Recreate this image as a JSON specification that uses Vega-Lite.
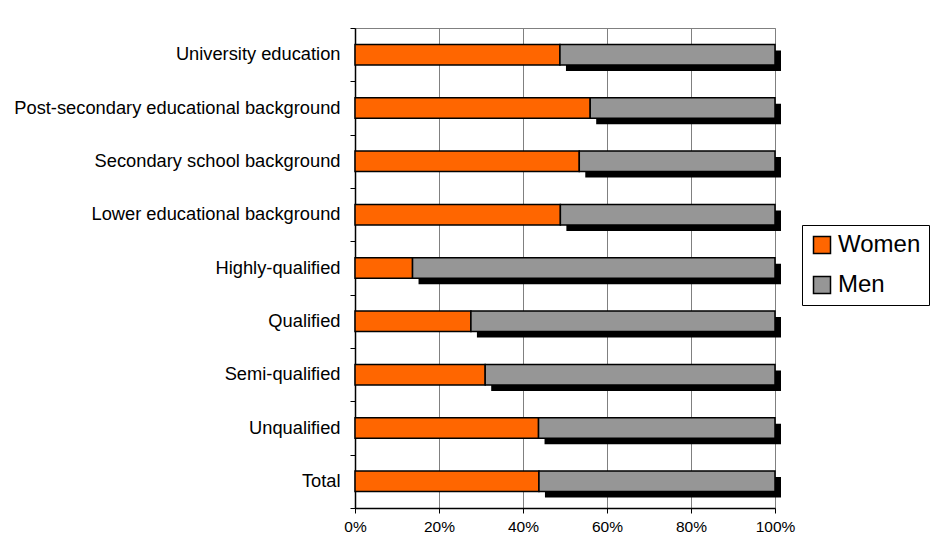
{
  "$schema": "https://vega.github.io/schema/vega-lite/v6.json",
  "autosize": "none",
  "padding": {"left": 355, "top": 28, "right": 158, "bottom": 52},
  "width": 420,
  "height": 480,
  "background": "white",
  "config": {
    "font": "Liberation Sans",
    "view": {"stroke": "#808080", "strokeWidth": 1}
  },
  "data": {
    "values": [
      {"category": "University education", "gender": "Women", "order": 1, "share": 0.488},
      {"category": "University education", "gender": "Men", "order": 2, "share": 0.512},
      {"category": "Post-secondary educational background", "gender": "Women", "order": 1, "share": 0.560},
      {"category": "Post-secondary educational background", "gender": "Men", "order": 2, "share": 0.440},
      {"category": "Secondary school background", "gender": "Women", "order": 1, "share": 0.534},
      {"category": "Secondary school background", "gender": "Men", "order": 2, "share": 0.466},
      {"category": "Lower educational background", "gender": "Women", "order": 1, "share": 0.489},
      {"category": "Lower educational background", "gender": "Men", "order": 2, "share": 0.511},
      {"category": "Highly-qualified", "gender": "Women", "order": 1, "share": 0.137},
      {"category": "Highly-qualified", "gender": "Men", "order": 2, "share": 0.863},
      {"category": "Qualified", "gender": "Women", "order": 1, "share": 0.276},
      {"category": "Qualified", "gender": "Men", "order": 2, "share": 0.724},
      {"category": "Semi-qualified", "gender": "Women", "order": 1, "share": 0.310},
      {"category": "Semi-qualified", "gender": "Men", "order": 2, "share": 0.690},
      {"category": "Unqualified", "gender": "Women", "order": 1, "share": 0.437},
      {"category": "Unqualified", "gender": "Men", "order": 2, "share": 0.563},
      {"category": "Total", "gender": "Women", "order": 1, "share": 0.438},
      {"category": "Total", "gender": "Men", "order": 2, "share": 0.562}
    ]
  },
  "transform": [
    {"stack": "share", "groupby": ["category"], "sort": [{"field": "order", "order": "ascending"}], "as": ["x0", "x1"]}
  ],
  "encoding": {
    "y": {
      "field": "category",
      "type": "nominal",
      "sort": null,
      "title": null,
      "scale": {"paddingInner": 0, "paddingOuter": 0},
      "axis": {
        "domainColor": "black",
        "domainWidth": 1.5,
        "tickColor": "black",
        "tickSize": 5,
        "tickBand": "extent",
        "labelFont": "Liberation Sans",
        "labelFontSize": 18.3,
        "labelColor": "black",
        "labelPadding": 10,
        "labelLimit": 400,
        "grid": false
      }
    }
  },
  "layer": [
    {
      "transform": [{"filter": "datum.gender === 'Men'"}],
      "mark": {"type": "bar", "fill": "black", "height": {"band": 0.385}, "xOffset": 6, "x2Offset": 6, "yOffset": 6},
      "encoding": {
        "x": {"field": "x0", "type": "quantitative", "scale": {"domain": [0, 1]}},
        "x2": {"field": "x1"}
      }
    },
    {
      "mark": {"type": "bar", "stroke": "black", "strokeWidth": 1.5, "height": {"band": 0.385}},
      "encoding": {
        "x": {
          "field": "x0",
          "type": "quantitative",
          "title": null,
          "scale": {"domain": [0, 1]},
          "axis": {
            "format": ".0%",
            "values": [0, 0.2, 0.4, 0.6, 0.8, 1],
            "grid": true,
            "gridColor": "#808080",
            "gridWidth": 1,
            "gridOpacity": 1,
            "domainColor": "black",
            "domainWidth": 1.5,
            "tickColor": "black",
            "tickSize": 5,
            "labelFont": "Liberation Sans",
            "labelFontSize": 15.5,
            "labelColor": "black",
            "labelPadding": 6,
            "labelFlush": false
          }
        },
        "x2": {"field": "x1"},
        "color": {
          "field": "gender",
          "type": "nominal",
          "scale": {"domain": ["Women", "Men"], "range": ["#FF6600", "#969696"]},
          "legend": {
            "title": null,
            "orient": "none",
            "legendX": 447,
            "legendY": 197,
            "direction": "vertical",
            "symbolType": "square",
            "symbolSize": 289,
            "symbolStrokeColor": "black",
            "symbolStrokeWidth": 1.5,
            "symbolOpacity": 1,
            "labelFont": "Liberation Sans",
            "labelFontSize": 24,
            "labelColor": "black",
            "labelOffset": 4,
            "rowPadding": 16,
            "padding": 8,
            "strokeColor": "black",
            "fillColor": "white"
          }
        }
      }
    }
  ]
}
